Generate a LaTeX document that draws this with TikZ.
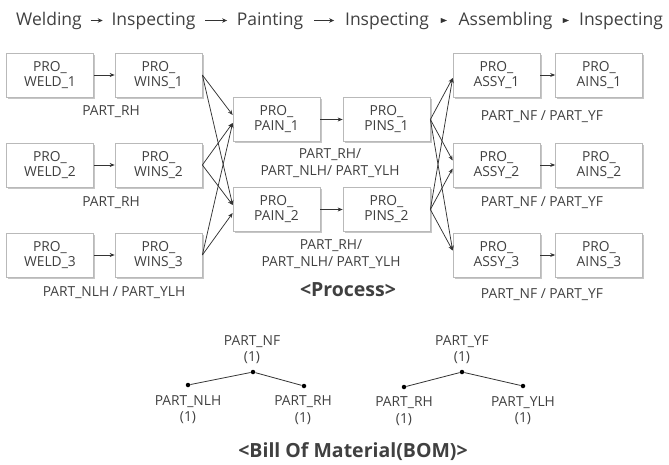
\documentclass[tikz,border=0pt]{standalone}
\usepackage{fontspec}
\setmainfont{Open Sans}
\usetikzlibrary{arrows.meta,shadows}
\definecolor{ink}{HTML}{404040}
\definecolor{lin}{HTML}{333333}
\tikzset{
  pbox/.style={draw=gray!55, line width=0.7pt, fill=white, minimum width=87pt, minimum height=44pt,
    inner sep=0pt, align=center, text=ink, font=\fontsize{13.8}{15}\selectfont,
    drop shadow={shadow xshift=1.6pt, shadow yshift=-1.6pt, fill=gray!45, opacity=1}},
  lbl/.style={text=ink, font=\fontsize{13.8}{16.5}\selectfont, align=center, inner sep=0pt},
  ttl/.style={text=ink, font=\fontsize{17.5}{18}\selectfont, inner sep=0pt, anchor=base, text height=13pt, text depth=4pt},
  hd/.style={text=ink, font=\bfseries\fontsize{19.5}{20}\selectfont, inner sep=0pt},
  con/.style={draw=lin, line width=0.75pt, -{Stealth[length=5pt,width=4pt]}},
  tcon/.style={draw=lin, line width=0.9pt, -{Stealth[length=5pt,width=4.5pt]}},
  tbul/.style={draw=lin, line width=0.1pt, -{Triangle[length=6pt,width=5pt]}},
  dot/.style={circle, fill=black, inner sep=0pt, minimum size=4.5pt},
  bline/.style={draw=lin, line width=0.8pt},
}
\begin{document}
\begin{tikzpicture}[x=1pt,y=-1pt]
\useasboundingbox (0,0) rectangle (669,464);
% title
\node[ttl] (t1) at (49,25) {Welding};
\node[ttl] (t2) at (153.5,25) {Inspecting};
\node[ttl] (t3) at (270,25) {Painting};
\node[ttl] (t4) at (387,25) {Inspecting};
\node[ttl] (t5) at (505.5,25) {Assembling};
\node[ttl] (t6) at (621,25) {Inspecting};
\path (t1.east) -- coordinate[pos=0.5] (m1) (t2.west);
\path (t2.east) -- coordinate[pos=0.5] (m2) (t3.west);
\path (t3.east) -- coordinate[pos=0.5] (m3) (t4.west);
\path (t4.east) -- coordinate[pos=0.5] (m4) (t5.west);
\path (t5.east) -- coordinate[pos=0.5] (m5) (t6.west);
\draw[tcon] ([xshift=-6pt]m1) -- ([xshift=6pt]m1);
\draw[tcon] ([xshift=-11pt]m2) -- ([xshift=11pt]m2);
\draw[tcon] ([xshift=-10pt]m3) -- ([xshift=10pt]m3);
\draw[tbul] ([xshift=-3pt]m4) -- ([xshift=3pt]m4);
\draw[tbul] ([xshift=-3pt]m5) -- ([xshift=3pt]m5);
% boxes
\foreach \i/\y in {1/75,2/165,3/255}{
  \node[pbox] (weld\i) at (50,\y) {PRO\_\\WELD\_\i};
  \node[pbox] (wins\i) at (158.5,\y) {PRO\_\\WINS\_\i};
  \node[pbox] (assy\i) at (496.5,\y) {PRO\_\\ASSY\_\i};
  \node[pbox] (ains\i) at (599,\y) {PRO\_\\AINS\_\i};
  \draw[con] (weld\i.east) -- (wins\i.west);
  \draw[con] (assy\i.east) -- (ains\i.west);
}
\foreach \j/\y in {1/119.5,2/209.5}{
  \node[pbox] (pain\j) at (276.5,\y) {PRO\_\\PAIN\_\j};
  \node[pbox] (pins\j) at (386.5,\y) {PRO\_\\PINS\_\j};
  \draw[con] (pain\j.east) -- (pins\j.west);
}
% labels
\node[lbl] (l1) at (111,112) {PART\_RH};
\node[lbl] (l2) at (111,203) {PART\_RH};
\node[lbl] (l3) at (114,293) {PART\_NLH / PART\_YLH};
\node[lbl] (l4) at (330,163) {PART\_RH/\\PART\_NLH/ PART\_YLH};
\node[lbl] (l5) at (331,254) {PART\_RH/\\PART\_NLH/ PART\_YLH};
\node[lbl] (l6) at (542,117) {PART\_NF / PART\_YF};
\node[lbl] (l7) at (542,203) {PART\_NF / PART\_YF};
\node[lbl] (l8) at (542,295) {PART\_NF / PART\_YF};
\node[hd] (proc) at (348,290) {<Process>};
% crossing connectors
\draw[con] (wins1.east) -- ([yshift=4.5pt]pain1.west);
\draw[con] (wins2.east) -- ([yshift=-3.5pt]pain1.west);
\draw[con] (wins3.east) -- ([yshift=-3.5pt]pain1.west);
\draw[con] (wins1.east) -- ([yshift=4.5pt]pain2.west);
\draw[con] (wins2.east) -- ([yshift=4.5pt]pain2.west);
\draw[con] (wins3.east) -- ([yshift=-3.5pt]pain2.west);
\draw[con] (pins1.east) -- ([yshift=-3pt]assy1.west);
\draw[con] (pins2.east) -- ([yshift=-3pt]assy1.west);
\draw[con] (pins1.east) -- ([yshift=4.5pt]assy2.west);
\draw[con] (pins2.east) -- ([yshift=-3.5pt]assy2.west);
\draw[con] (pins1.east) -- ([yshift=4.5pt]assy3.west);
\draw[con] (pins2.east) -- ([yshift=4.5pt]assy3.west);
% BOM
\node[lbl] (nf) at (252,349.5) {PART\_NF\\(1)};
\node[dot] (dnf) at (253,372) {};
\node[dot] (dnlh) at (188,385) {};
\node[dot] (drh1) at (304,386) {};
\node[lbl] (nlh) at (188,409.5) {PART\_NLH\\(1)};
\node[lbl] (rh1) at (303,410) {PART\_RH\\(1)};
\draw[bline] (dnf) -- (dnlh);
\draw[bline] (dnf) -- (drh1);
\node[lbl] (yf) at (462,349.5) {PART\_YF\\(1)};
\node[dot] (dyf) at (462,372) {};
\node[dot] (drh2) at (404,387) {};
\node[dot] (dylh) at (523,386) {};
\node[lbl] (rh2) at (404,411) {PART\_RH\\(1)};
\node[lbl] (ylh) at (523,410.5) {PART\_YLH\\(1)};
\draw[bline] (dyf) -- (drh2);
\draw[bline] (dyf) -- (dylh);
\node[hd] (bom) at (353,452) {<Bill Of Material(BOM)>};
\end{tikzpicture}
\end{document}
